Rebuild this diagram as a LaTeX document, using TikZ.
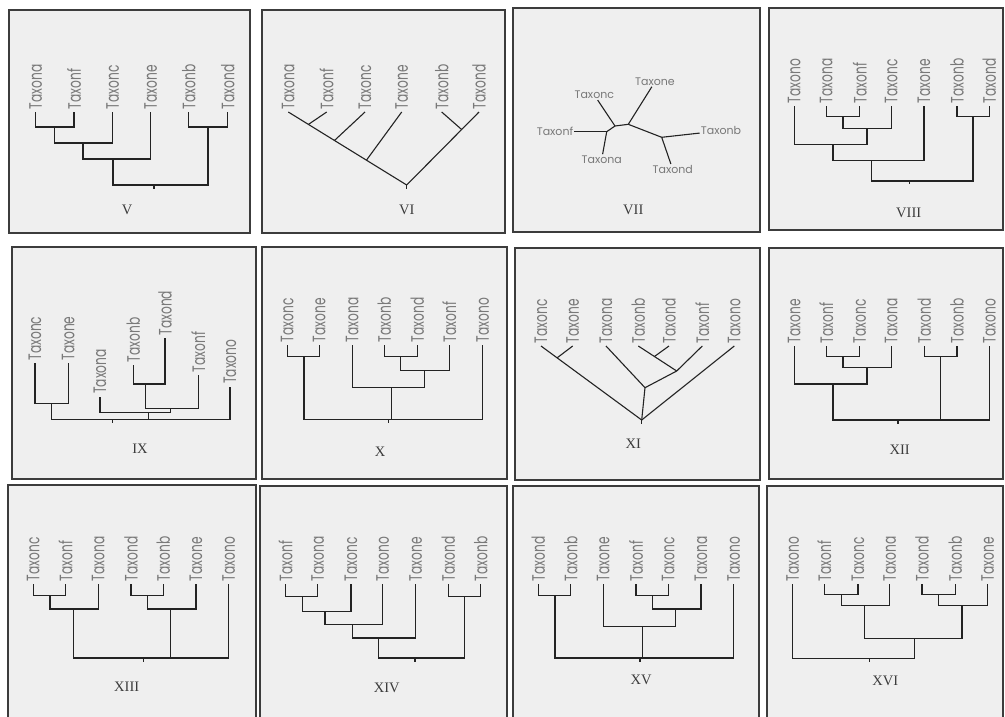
\documentclass[tikz,border=0pt]{standalone}
\usepackage{fontspec}
\usepackage{tikz}
\usetikzlibrary{calc}
\newfontfamily\taxfont{Poppins}
\newfontfamily\numfont{Liberation Serif}
\definecolor{panelbg}{RGB}{239,239,239}
\definecolor{panelline}{RGB}{60,60,60}
\definecolor{branchc}{RGB}{35,35,35}
\definecolor{taxgray}{RGB}{120,120,120}
\definecolor{numgray}{RGB}{60,60,60}

\begin{document}
\begin{tikzpicture}[
    x=1pt, y=-1pt,
    panel/.style={draw=panelline, fill=panelbg, line width=1.1pt},
    branch/.style={draw=branchc, line width=1.1pt},
    taxon/.style={rotate=90, anchor=west, xscale=0.68, inner sep=4pt, text=taxgray, font=\taxfont\fontsize{18}{18}\selectfont},
    flat/.style={inner sep=1pt, text=taxgray, font=\taxfont\fontsize{11}{11}\selectfont},
    numeral/.style={text=numgray, font=\numfont\fontsize{14.5}{14.5}\selectfont},
]
  \useasboundingbox (0,0) rectangle (1005,716);
  \clip (0,0) rectangle (1005,716);
  \fill[white] (0,0) rectangle (1005,716);

  % V
  \draw[panel] (9,10) rectangle (250,233);
  \node[taxon] (p5_a) at (35.7,112) {Taxona};
  \node[taxon] (p5_f) at (74,112) {Taxonf};
  \node[taxon] (p5_c) at (112.7,112) {Taxonc};
  \node[taxon] (p5_e) at (150.7,112) {Taxone};
  \node[taxon] (p5_b) at (188.7,112) {Taxonb};
  \node[taxon] (p5_d) at (227.7,112) {Taxond};
  \coordinate (p5_n1) at (54.3,127);
  \coordinate (p5_n2) at (83,143);
  \coordinate (p5_n3) at (113,159);
  \coordinate (p5_n4) at (208,127);
  \coordinate (p5_r) at (154,185);
  \draw[branch] (p5_n1) -| (p5_a.west);
  \draw[branch] (p5_n1) -| (p5_f.west);
  \draw[branch] (p5_n2) -| (p5_n1);
  \draw[branch] (p5_n2) -| (p5_c.west);
  \draw[branch] (p5_n3) -| (p5_n2);
  \draw[branch] (p5_n3) -| (p5_e.west);
  \draw[branch] (p5_n4) -| (p5_b.west);
  \draw[branch] (p5_n4) -| (p5_d.west);
  \draw[branch] (p5_r) -| (p5_n3);
  \draw[branch] (p5_r) -| (p5_n4);
  \draw[branch] (p5_r) -- ++(0,3.5);
  \node[numeral] (p5_num) at (127,210) {V};

  % VI
  \draw[panel] (262,10) rectangle (505,233);
  \node[taxon] (p6_a) at (288.3,112) {Taxona};
  \node[taxon] (p6_f) at (326.7,112) {Taxonf};
  \node[taxon] (p6_c) at (365,112) {Taxonc};
  \node[taxon] (p6_e) at (401.7,112) {Taxone};
  \node[taxon] (p6_b) at (441.7,112) {Taxonb};
  \node[taxon] (p6_d) at (479,112) {Taxond};
  \coordinate (p6_r) at (406.7,185);
  \coordinate (p6_n1) at ($(p6_a.west)!0.17!(p6_r)$);
  \coordinate (p6_n2) at ($(p6_a.west)!0.39!(p6_r)$);
  \coordinate (p6_n3) at ($(p6_a.west)!0.66!(p6_r)$);
  \coordinate (p6_n4) at ($(p6_d.west)!0.24!(p6_r)$);
  \draw[branch] (p6_a.west) -- (p6_r);
  \draw[branch] (p6_f.west) -- (p6_n1);
  \draw[branch] (p6_c.west) -- (p6_n2);
  \draw[branch] (p6_e.west) -- (p6_n3);
  \draw[branch] (p6_d.west) -- (p6_r);
  \draw[branch] (p6_b.west) -- (p6_n4);
  \draw[branch] (p6_r) -- ++(0,3.5);
  \node[numeral] (p6_num) at (406.7,210) {VI};

  % VII
  \draw[panel] (513,8) rectangle (760,232);
  \node[flat] (p7_e) at (655,81.7) {Taxone};
  \node[flat] (p7_c) at (594.3,95) {Taxonc};
  \node[flat] (p7_f) at (555,131.7) {Taxonf};
  \node[flat] (p7_a) at (601.7,159.3) {Taxona};
  \node[flat] (p7_b) at (721,130.7) {Taxonb};
  \node[flat] (p7_d) at (672.7,169.3) {Taxond};
  \coordinate (p7_n1) at (606.7,131.7);
  \coordinate (p7_n2) at (615,126);
  \coordinate (p7_n3) at (628.3,124.3);
  \coordinate (p7_n4) at (661.7,137.3);
  \draw[branch] (p7_n1) -- (p7_f);
  \draw[branch] (p7_n1) -- (p7_a);
  \draw[branch] (p7_n1) -- (p7_n2);
  \draw[branch] (p7_n2) -- (p7_c);
  \draw[branch] (p7_n2) -- (p7_n3);
  \draw[branch] (p7_n3) -- (p7_e);
  \draw[branch] (p7_n3) -- (p7_n4);
  \draw[branch] (p7_n4) -- (p7_b);
  \draw[branch] (p7_n4) -- (p7_d);
  \node[numeral] (p7_num) at (633.3,210) {VII};

  % VIII
  \draw[panel] (769,8) rectangle (1003,230);
  \node[taxon] (p8_o) at (794.3,106) {Taxono};
  \node[taxon] (p8_a) at (826.3,106) {Taxona};
  \node[taxon] (p8_f) at (859.7,106) {Taxonf};
  \node[taxon] (p8_c) at (891.3,106) {Taxonc};
  \node[taxon] (p8_e) at (924,106) {Taxone};
  \node[taxon] (p8_b) at (957,106) {Taxonb};
  \node[taxon] (p8_d) at (989.3,106) {Taxond};
  \coordinate (p8_n1) at (843,116.7);
  \coordinate (p8_n2) at (867,128.3);
  \coordinate (p8_n3) at (833,144.3);
  \coordinate (p8_n4) at (871.3,160.7);
  \coordinate (p8_n5) at (973,116.7);
  \coordinate (p8_r) at (909.7,181);
  \draw[branch] (p8_n1) -| (p8_a.west);
  \draw[branch] (p8_n1) -| (p8_f.west);
  \draw[branch] (p8_n2) -| (p8_n1);
  \draw[branch] (p8_n2) -| (p8_c.west);
  \draw[branch] (p8_n3) -| (p8_o.west);
  \draw[branch] (p8_n3) -| (p8_n2);
  \draw[branch] (p8_n4) -| (p8_n3);
  \draw[branch] (p8_n4) -| (p8_e.west);
  \draw[branch] (p8_n5) -| (p8_b.west);
  \draw[branch] (p8_n5) -| (p8_d.west);
  \draw[branch] (p8_r) -| (p8_n4);
  \draw[branch] (p8_r) -| (p8_n5);
  \draw[branch] (p8_r) -- ++(0,3);
  \node[numeral] (p8_num) at (908.7,213.3) {VIII};

  % IX
  \draw[panel] (12,247) rectangle (256,479);
  \node[taxon] (p9_c) at (35,363.3) {Taxonc};
  \node[taxon] (p9_e) at (68.3,363.3) {Taxone};
  \node[taxon] (p9_a) at (100,396.7) {Taxona};
  \node[taxon] (p9_b) at (133.3,365) {Taxonb};
  \node[taxon] (p9_d) at (165,338.3) {Taxond};
  \node[taxon] (p9_f) at (198.3,375) {Taxonf};
  \node[taxon] (p9_o) at (230,386.7) {Taxono};
  \coordinate (p9_n1) at (51.7,403.3);
  \coordinate (p9_n2) at (145.7,384);
  \coordinate (p9_n3) at (170.7,408.3);
  \coordinate (p9_n4) at (148.3,412.3);
  \coordinate (p9_r) at (112.7,419.3);
  \draw[branch] (p9_n1) -| (p9_c.west);
  \draw[branch] (p9_n1) -| (p9_e.west);
  \draw[branch] (p9_n2) -| (p9_b.west);
  \draw[branch] (p9_n2) -| (p9_d.west);
  \draw[branch] (p9_n3) -| (p9_n2);
  \draw[branch] (p9_n3) -| (p9_f.west);
  \draw[branch] (p9_n4) -| (p9_a.west);
  \draw[branch] (p9_n4) -| (p9_n3);
  \draw[branch] (p9_r) -| (p9_n1);
  \draw[branch] (p9_r) -| (p9_n4);
  \draw[branch] (p9_r) -| (p9_o.west);
  \draw[branch] (p9_r) -- ++(0,3.5);
  \node[numeral] (p9_num) at (140,448.3) {IX};

  % X
  \draw[panel] (262,247) rectangle (507,479);
  \node[taxon] (p10_c) at (287.3,345) {Taxonc};
  \node[taxon] (p10_e) at (319.3,345) {Taxone};
  \node[taxon] (p10_a) at (352.3,345) {Taxona};
  \node[taxon] (p10_b) at (384.3,345) {Taxonb};
  \node[taxon] (p10_d) at (417.3,345) {Taxond};
  \node[taxon] (p10_f) at (449.3,345) {Taxonf};
  \node[taxon] (p10_o) at (482.7,345) {Taxono};
  \coordinate (p10_n1) at (304,356.7);
  \coordinate (p10_n2) at (400.7,356.7);
  \coordinate (p10_n3) at (424.3,370.7);
  \coordinate (p10_n4) at (391.7,387.7);
  \coordinate (p10_r) at (388.3,419.3);
  \draw[branch] (p10_n1) -| (p10_c.west);
  \draw[branch] (p10_n1) -| (p10_e.west);
  \draw[branch] (p10_n2) -| (p10_b.west);
  \draw[branch] (p10_n2) -| (p10_d.west);
  \draw[branch] (p10_n3) -| (p10_n2);
  \draw[branch] (p10_n3) -| (p10_f.west);
  \draw[branch] (p10_n4) -| (p10_a.west);
  \draw[branch] (p10_n4) -| (p10_n3);
  \draw[branch] (p10_r) -| (p10_n1);
  \draw[branch] (p10_r) -| (p10_n4);
  \draw[branch] (p10_r) -| (p10_o.west);
  \draw[branch] (p10_r) -- ++(0,4);
  \node[numeral] (p10_num) at (380,451.7) {X};

  % XI
  \draw[panel] (515,248) rectangle (760,480);
  \node[taxon] (p11_c) at (541,346) {Taxonc};
  \node[taxon] (p11_e) at (572.7,346) {Taxone};
  \node[taxon] (p11_a) at (606,346) {Taxona};
  \node[taxon] (p11_b) at (638.3,346) {Taxonb};
  \node[taxon] (p11_d) at (669,346) {Taxond};
  \node[taxon] (p11_f) at (702.3,346) {Taxonf};
  \node[taxon] (p11_o) at (734.3,346) {Taxono};
  \coordinate (p11_r) at (641.7,420);
  \coordinate (p11_n3) at (676.7,371);
  \coordinate (p11_n4) at (645,387.7);
  \coordinate (p11_n1) at ($(p11_c.west)!0.16!(p11_r)$);
  \coordinate (p11_n2) at ($(p11_b.west)!0.42!(p11_n3)$);
  \draw[branch] (p11_c.west) -- (p11_r);
  \draw[branch] (p11_e.west) -- (p11_n1);
  \draw[branch] (p11_b.west) -- (p11_n3);
  \draw[branch] (p11_d.west) -- (p11_n2);
  \draw[branch] (p11_f.west) -- (p11_n3);
  \draw[branch] (p11_a.west) -- (p11_n4);
  \draw[branch] (p11_n3) -- (p11_n4);
  \draw[branch] (p11_n4) -- (p11_r);
  \draw[branch] (p11_o.west) -- (p11_r);
  \draw[branch] (p11_r) -- ++(0,3.5);
  \node[numeral] (p11_num) at (633.3,444) {XI};

  % XII
  \draw[panel] (769,248) rectangle (1003,479);
  \node[taxon] (p12_e) at (794.3,346) {Taxone};
  \node[taxon] (p12_f) at (826.3,346) {Taxonf};
  \node[taxon] (p12_c) at (859.7,346) {Taxonc};
  \node[taxon] (p12_a) at (891.3,346) {Taxona};
  \node[taxon] (p12_d) at (924.3,346) {Taxond};
  \node[taxon] (p12_b) at (957,346) {Taxonb};
  \node[taxon] (p12_o) at (989.3,346) {Taxono};
  \coordinate (p12_n1) at (843,356.7);
  \coordinate (p12_n2) at (867,367.7);
  \coordinate (p12_n3) at (833,384);
  \coordinate (p12_n4) at (940.3,356.7);
  \coordinate (p12_r) at (898,420);
  \draw[branch] (p12_n1) -| (p12_f.west);
  \draw[branch] (p12_n1) -| (p12_c.west);
  \draw[branch] (p12_n2) -| (p12_n1);
  \draw[branch] (p12_n2) -| (p12_a.west);
  \draw[branch] (p12_n3) -| (p12_e.west);
  \draw[branch] (p12_n3) -| (p12_n2);
  \draw[branch] (p12_n4) -| (p12_d.west);
  \draw[branch] (p12_n4) -| (p12_b.west);
  \draw[branch] (p12_r) -| (p12_n3);
  \draw[branch] (p12_r) -| (p12_n4);
  \draw[branch] (p12_r) -| (p12_o.west);
  \draw[branch] (p12_r) -- ++(0,3.5);
  \node[numeral] (p12_num) at (899.7,449.3) {XII};

  % XIII
  \draw[panel] (8,485) rectangle (256,730);
  \node[taxon] (p13_c) at (33.3,584) {Taxonc};
  \node[taxon] (p13_f) at (65.7,584) {Taxonf};
  \node[taxon] (p13_a) at (98.3,584) {Taxona};
  \node[taxon] (p13_d) at (131,584) {Taxond};
  \node[taxon] (p13_b) at (163.3,584) {Taxonb};
  \node[taxon] (p13_e) at (196,584) {Taxone};
  \node[taxon] (p13_o) at (228.7,584) {Taxono};
  \coordinate (p13_n1) at (50,595.3);
  \coordinate (p13_n2) at (73.3,609);
  \coordinate (p13_n3) at (147.3,595.3);
  \coordinate (p13_n4) at (170.7,609);
  \coordinate (p13_r) at (143.3,658);
  \draw[branch] (p13_n1) -| (p13_c.west);
  \draw[branch] (p13_n1) -| (p13_f.west);
  \draw[branch] (p13_n2) -| (p13_n1);
  \draw[branch] (p13_n2) -| (p13_a.west);
  \draw[branch] (p13_n3) -| (p13_d.west);
  \draw[branch] (p13_n3) -| (p13_b.west);
  \draw[branch] (p13_n4) -| (p13_n3);
  \draw[branch] (p13_n4) -| (p13_e.west);
  \draw[branch] (p13_r) -| (p13_n2);
  \draw[branch] (p13_r) -| (p13_n4);
  \draw[branch] (p13_r) -| (p13_o.west);
  \draw[branch] (p13_r) -- ++(0,4);
  \node[numeral] (p13_num) at (126.7,686.3) {XIII};

  % XIV
  \draw[panel] (260,486) rectangle (507,730);
  \node[taxon] (p14_f) at (285.7,584) {Taxonf};
  \node[taxon] (p14_a) at (317.7,584) {Taxona};
  \node[taxon] (p14_c) at (351,584) {Taxonc};
  \node[taxon] (p14_o) at (382.7,584) {Taxono};
  \node[taxon] (p14_e) at (415.7,584) {Taxone};
  \node[taxon] (p14_d) at (448.3,584) {Taxond};
  \node[taxon] (p14_b) at (480.7,584) {Taxonb};
  \coordinate (p14_n1) at (302.3,596.3);
  \coordinate (p14_n2) at (325,611.3);
  \coordinate (p14_n3) at (352.3,624.7);
  \coordinate (p14_n4) at (378.3,638);
  \coordinate (p14_n5) at (464.3,596.3);
  \coordinate (p14_r) at (415,658);
  \draw[branch] (p14_n1) -| (p14_f.west);
  \draw[branch] (p14_n1) -| (p14_a.west);
  \draw[branch] (p14_n2) -| (p14_n1);
  \draw[branch] (p14_n2) -| (p14_c.west);
  \draw[branch] (p14_n3) -| (p14_n2);
  \draw[branch] (p14_n3) -| (p14_o.west);
  \draw[branch] (p14_n4) -| (p14_n3);
  \draw[branch] (p14_n4) -| (p14_e.west);
  \draw[branch] (p14_n5) -| (p14_d.west);
  \draw[branch] (p14_n5) -| (p14_b.west);
  \draw[branch] (p14_r) -| (p14_n4);
  \draw[branch] (p14_r) -| (p14_n5);
  \draw[branch] (p14_r) -- ++(0,4);
  \node[numeral] (p14_num) at (386.7,688) {XIV};

  % XV
  \draw[panel] (513,486) rectangle (759,730);
  \node[taxon] (p15_d) at (538.3,584) {Taxond};
  \node[taxon] (p15_b) at (570.7,584) {Taxonb};
  \node[taxon] (p15_e) at (603.3,584) {Taxone};
  \node[taxon] (p15_f) at (636,584) {Taxonf};
  \node[taxon] (p15_c) at (668.3,584) {Taxonc};
  \node[taxon] (p15_a) at (701,584) {Taxona};
  \node[taxon] (p15_o) at (733.7,584) {Taxono};
  \coordinate (p15_n1) at (555,595.3);
  \coordinate (p15_n2) at (652.3,595.3);
  \coordinate (p15_n3) at (675.7,609);
  \coordinate (p15_n4) at (642.7,626.3);
  \coordinate (p15_r) at (640,658);
  \draw[branch] (p15_n1) -| (p15_d.west);
  \draw[branch] (p15_n1) -| (p15_b.west);
  \draw[branch] (p15_n2) -| (p15_f.west);
  \draw[branch] (p15_n2) -| (p15_c.west);
  \draw[branch] (p15_n3) -| (p15_n2);
  \draw[branch] (p15_n3) -| (p15_a.west);
  \draw[branch] (p15_n4) -| (p15_e.west);
  \draw[branch] (p15_n4) -| (p15_n3);
  \draw[branch] (p15_r) -| (p15_n1);
  \draw[branch] (p15_r) -| (p15_n4);
  \draw[branch] (p15_r) -| (p15_o.west);
  \draw[branch] (p15_r) -- ++(0,4);
  \node[numeral] (p15_num) at (641,679.7) {XV};

  % XVI
  \draw[panel] (767,486) rectangle (1003,730);
  \node[taxon] (p16_o) at (792.7,584) {Taxono};
  \node[taxon] (p16_f) at (824.3,584) {Taxonf};
  \node[taxon] (p16_c) at (858,584) {Taxonc};
  \node[taxon] (p16_a) at (889.7,584) {Taxona};
  \node[taxon] (p16_d) at (922,584) {Taxond};
  \node[taxon] (p16_b) at (955.3,584) {Taxonb};
  \node[taxon] (p16_e) at (987.7,584) {Taxone};
  \coordinate (p16_n1) at (841.3,594.7);
  \coordinate (p16_n2) at (864.7,605.7);
  \coordinate (p16_n3) at (938.7,594.7);
  \coordinate (p16_n4) at (962,605.7);
  \coordinate (p16_n5) at (914.3,638.7);
  \coordinate (p16_r) at (869.3,658.7);
  \draw[branch] (p16_n1) -| (p16_f.west);
  \draw[branch] (p16_n1) -| (p16_c.west);
  \draw[branch] (p16_n2) -| (p16_n1);
  \draw[branch] (p16_n2) -| (p16_a.west);
  \draw[branch] (p16_n3) -| (p16_d.west);
  \draw[branch] (p16_n3) -| (p16_b.west);
  \draw[branch] (p16_n4) -| (p16_n3);
  \draw[branch] (p16_n4) -| (p16_e.west);
  \draw[branch] (p16_n5) -| (p16_n2);
  \draw[branch] (p16_n5) -| (p16_n4);
  \draw[branch] (p16_r) -| (p16_o.west);
  \draw[branch] (p16_r) -| (p16_n5);
  \draw[branch] (p16_r) -- ++(0,3.5);
  \node[numeral] (p16_num) at (885.3,681.3) {XVI};
\end{tikzpicture}
\end{document}
